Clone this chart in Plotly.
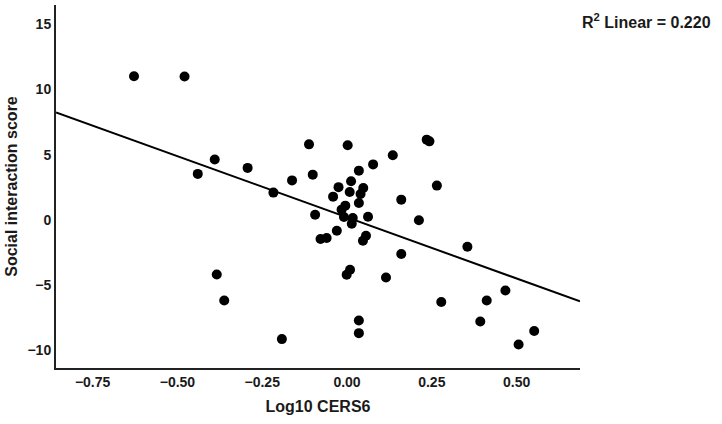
import plotly.graph_objects as go

# Data
log10_cers6 = [
    -0.628, -0.479, -0.390, -0.440, -0.293, -0.217, -0.162, -0.384, -0.362, -0.192,
    -0.112, 0.002, 0.235, 0.243, 0.135, 0.077, 0.035, -0.101, 0.012, 0.008,
    -0.025, -0.041, 0.048, 0.040, 0.035, -0.005, -0.016, -0.009, 0.017, 0.014,
    0.062, -0.094, -0.030, -0.078, -0.060, 0.047, 0.056, -0.001, 0.009, 0.115,
    0.035, 0.035,
    0.265, 0.212, 0.160, 0.160, 0.355, 0.278, 0.412, 0.467, 0.393, 0.506, 0.552,
]
social_score = [
    11.02, 11.0, 4.62, 3.52, 3.98, 2.08, 3.02, -4.21, -6.21, -9.18,
    5.79, 5.72, 6.15, 6.02, 4.95, 4.25, 3.77, 3.46, 2.95, 2.13,
    2.50, 1.77, 2.44, 1.98, 1.28, 1.08, 0.77, 0.21, 0.13, -0.31,
    0.23, 0.38, -0.85, -1.48, -1.41, -1.62, -1.23, -4.23, -3.85, -4.44,
    -7.75, -8.72,
    2.62, -0.05, 1.54, -2.64, -2.08, -6.33, -6.21, -5.44, -7.82, -9.59, -8.56,
]

fit_intercept = 0.18
fit_slope = -9.40
r2_text = "0.220"

x_range = [-0.858, 0.687]
y_range = [-11.4, 16.5]
x_ticks = [-0.75, -0.50, -0.25, 0.00, 0.25, 0.50]
y_ticks = [-10, -5, 0, 5, 10, 15]

fit_x = x_range
fit_y = [fit_intercept + fit_slope * v for v in fit_x]

FONT = "Liberation Sans, Arial, sans-serif"

fig = go.Figure()
fig.add_trace(go.Scatter(
    x=fit_x, y=fit_y, mode="lines",
    line=dict(color="black", width=2),
    hoverinfo="skip", showlegend=False,
))
fig.add_trace(go.Scatter(
    x=log10_cers6, y=social_score, mode="markers",
    marker=dict(color="black", size=10, line=dict(width=0)),
    showlegend=False,
))

fig.update_layout(
    width=722, height=424,
    margin=dict(l=56, r=142, t=5, b=56),
    paper_bgcolor="white", plot_bgcolor="white",
    font=dict(family=FONT, color="#1a1a1a"),
    xaxis=dict(
        range=x_range, tickvals=x_ticks, tickformat=".2f",
        showline=True, linecolor="#222222", linewidth=2,
        showgrid=False, zeroline=False, ticks="",
        tickfont=dict(size=14, weight="bold", family=FONT),
        title=dict(text="<b>Log10 CERS6</b>", font=dict(size=16, family=FONT), standoff=12),
    ),
    yaxis=dict(
        range=y_range, tickvals=y_ticks,
        showline=True, linecolor="#222222", linewidth=2,
        showgrid=False, zeroline=False, ticks="",
        tickfont=dict(size=14, weight="bold", family=FONT),
        title=dict(text="<b>Social interaction score</b>", font=dict(size=16, family=FONT), standoff=6),
    ),
    annotations=[dict(
        xref="paper", yref="paper", x=1.0, y=1.0, xanchor="left", yanchor="top",
        xshift=0, yshift=-4,
        text="<b>R<sup>2</sup> Linear = " + r2_text + "</b>",
        showarrow=False, font=dict(size=16, family=FONT, color="#1a1a1a"),
    )],
)

fig.write_html("out.html")
